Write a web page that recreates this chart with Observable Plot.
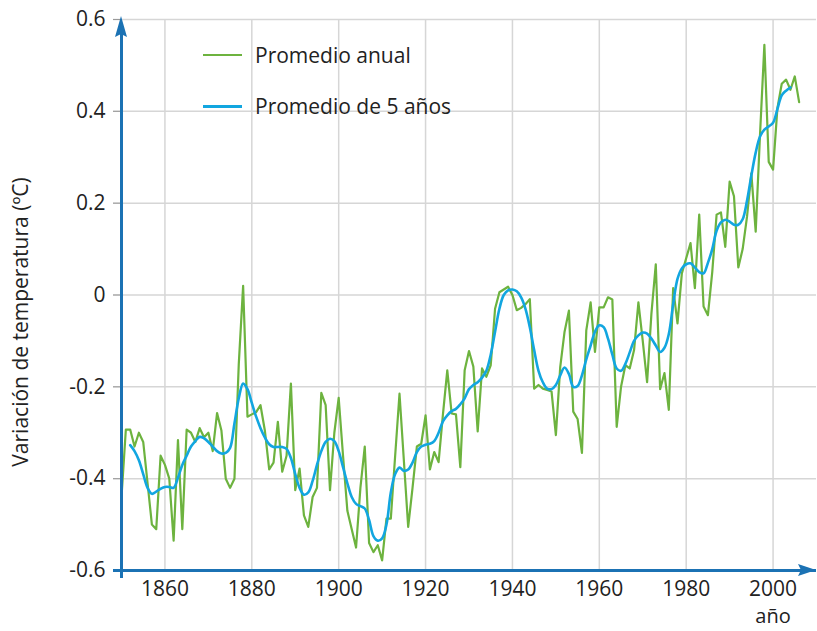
<!DOCTYPE html>
<html>
<head>
<meta charset="utf-8">
<script src="https://cdn.jsdelivr.net/npm/d3@7"></script>
<script src="https://cdn.jsdelivr.net/npm/@observablehq/plot@0.6"></script>
<style>
  body { margin: 0; background: #fff; }
  #wrap { position: relative; width: 817px; height: 631px; font-family: "Open Sans", sans-serif; color: #222; }
  .legend { position: absolute; left: 203px; font-size: 21px; display: flex; align-items: center; white-space: nowrap; }
  .legend .sw { width: 39px; height: 0; margin-right: 13px; }
  .ylab { position: absolute; left: 20px; top: 322px; transform: translate(-50%, -50%) rotate(-90deg); font-size: 21px; white-space: nowrap; }
  .xlab { position: absolute; left: 773px; top: 606px; transform: translateX(-50%); font-size: 20px; line-height: 20px; }
</style>
</head>
<body>
<div id="wrap"></div>
<script>
// ---- data ----
const firstYear = 1850;
const annualValues = [
  -0.44, -0.293, -0.293, -0.33, -0.30, -0.32, -0.41, -0.50, -0.51, -0.35,   // 1850s
  -0.37, -0.40, -0.535, -0.316, -0.51, -0.293, -0.30, -0.32, -0.29, -0.31,  // 1860s
  -0.30, -0.34, -0.257, -0.295, -0.40, -0.42, -0.40, -0.15, 0.02, -0.265,   // 1870s
  -0.26, -0.255, -0.24, -0.295, -0.38, -0.365, -0.276, -0.385, -0.35, -0.193, // 1880s
  -0.425, -0.378, -0.48, -0.505, -0.44, -0.42, -0.213, -0.24, -0.425, -0.30, // 1890s
  -0.224, -0.35, -0.47, -0.51, -0.55, -0.42, -0.33, -0.54, -0.56, -0.545,   // 1900s
  -0.578, -0.487, -0.487, -0.35, -0.215, -0.36, -0.505, -0.42, -0.33, -0.324, // 1910s
  -0.262, -0.38, -0.342, -0.364, -0.26, -0.164, -0.258, -0.26, -0.375, -0.164, // 1920s
  -0.122, -0.156, -0.297, -0.16, -0.178, -0.153, -0.03, 0.006, 0.012, 0.018, // 1930s
  0.0, -0.033, -0.028, -0.02, -0.009, -0.204, -0.196, -0.204, -0.207, -0.21, // 1940s
  -0.305, -0.157, -0.08, -0.034, -0.254, -0.27, -0.344, -0.077, -0.016, -0.124, // 1950s
  -0.027, -0.027, -0.005, -0.01, -0.287, -0.2, -0.153, -0.16, -0.12, -0.016, // 1960s
  -0.1, -0.19, -0.04, 0.067, -0.205, -0.17, -0.25, 0.015, -0.062, 0.047,    // 1970s
  0.08, 0.113, 0.015, 0.175, -0.025, -0.044, 0.05, 0.175, 0.18, 0.105,      // 1980s
  0.247, 0.215, 0.06, 0.10, 0.17, 0.265, 0.138, 0.35, 0.545, 0.29,          // 1990s
  0.273, 0.407, 0.46, 0.469, 0.447, 0.476, 0.42                             // 2000s
];
const smoothFirstYear = 1852;
const smoothValues = [
  -0.327, -0.34, -0.36, -0.39, -0.42, -0.433, -0.428, -0.422,               // 1852-1859
  -0.418, -0.418, -0.42, -0.398, -0.37, -0.35, -0.33, -0.318, -0.309, -0.312, // 1860s
  -0.32, -0.33, -0.34, -0.345, -0.344, -0.333, -0.28, -0.225, -0.193, -0.205, // 1870s
  -0.235, -0.265, -0.29, -0.31, -0.325, -0.331, -0.331, -0.331, -0.335, -0.355, // 1880s
  -0.39, -0.42, -0.435, -0.43, -0.405, -0.37, -0.34, -0.32, -0.313, -0.318, // 1890s
  -0.34, -0.375, -0.41, -0.44, -0.455, -0.46, -0.465, -0.49, -0.525, -0.535, // 1900s
  -0.53, -0.5, -0.43, -0.39, -0.376, -0.383, -0.38, -0.365, -0.342, -0.33,  // 1910s
  -0.326, -0.324, -0.318, -0.3, -0.275, -0.262, -0.253, -0.248, -0.238, -0.225, // 1920s
  -0.205, -0.196, -0.19, -0.18, -0.165, -0.13, -0.08, -0.03, 0.0, 0.01,     // 1930s
  0.012, 0.008, -0.005, -0.03, -0.07, -0.12, -0.165, -0.19, -0.204, -0.205, // 1940s
  -0.196, -0.175, -0.158, -0.172, -0.2, -0.198, -0.175, -0.14, -0.11, -0.08, // 1950s
  -0.066, -0.07, -0.095, -0.13, -0.16, -0.165, -0.15, -0.125, -0.1, -0.088, // 1960s
  -0.082, -0.084, -0.095, -0.11, -0.124, -0.115, -0.085, -0.02, 0.035, 0.058, // 1970s
  0.067, 0.069, 0.06, 0.05, 0.047, 0.07, 0.1, 0.14, 0.158, 0.164,           // 1980s
  0.16, 0.153, 0.153, 0.165, 0.205, 0.26, 0.31, 0.345, 0.36, 0.367,         // 1990s
  0.375, 0.405, 0.435, 0.445, 0.452                                         // 2000-2004
];
const xTicks = [1860, 1880, 1900, 1920, 1940, 1960, 1980, 2000];
const yTicks = [-0.6, -0.4, -0.2, 0, 0.2, 0.4, 0.6];
const seriesNames = ["Promedio anual", "Promedio de 5 años"];
const yLabel = "Variación de temperatura (ºC)";
const xLabel = "año";

// ---- styles ----
const green = "#6db33f";
const cyan = "#12a6e0";
const axisBlue = "#1b72b4";
const gridColor = "#d6d6d6";

const annual = annualValues.map((v, i) => ({year: firstYear + i, value: v}));
const smooth = smoothValues.map((v, i) => ({year: smoothFirstYear + i, value: v}));

const chart = Plot.plot({
  width: 817,
  height: 631,
  marginLeft: 121,
  marginRight: 1,
  marginTop: 19,
  marginBottom: 61,
  style: {fontFamily: "'Open Sans', sans-serif", fontSize: "21px", color: "#222", background: "#fff"},
  x: {domain: [1850, 2010], label: null},
  y: {domain: [-0.6, 0.6], label: null},
  marks: [
    Plot.gridX(xTicks, {stroke: gridColor, strokeOpacity: 1, strokeWidth: 1.5}),
    Plot.gridY(yTicks, {stroke: gridColor, strokeOpacity: 1, strokeWidth: 1.5, insetLeft: -8}),
    Plot.axisX(xTicks, {tickSize: 0, tickPadding: 11, tickFormat: d => String(d), fontSize: 21, fill: "#222"}),
    Plot.axisY(yTicks, {tickSize: 8, tickPadding: 8, stroke: "#999", tickFormat: d => d === 0 ? "0" : d.toFixed(1), fontSize: 21, fill: "#222"}),
    Plot.line(annual, {x: "year", y: "value", stroke: green, strokeWidth: 2.2, strokeLinejoin: "round"}),
    Plot.line(smooth, {x: "year", y: "value", stroke: cyan, strokeWidth: 2.6, curve: "catmull-rom"}),
    Plot.ruleY([-0.6], {stroke: axisBlue, strokeWidth: 3, insetLeft: -8}),
    Plot.ruleX([1850], {stroke: axisBlue, strokeWidth: 3, insetBottom: -8, insetTop: 4})
  ]
});

// arrowheads on the axes, placed from the plot scales
const sx = chart.scale("x"), sy = chart.scale("y");
const x0 = sx.apply(1850), xEnd = sx.apply(2010);
const yTop = sy.apply(0.6), yBot = sy.apply(-0.6);
const svg = d3.select(chart);
svg.append("path")
  .attr("d", `M${x0},${yTop - 3} L${x0 + 6},${yTop + 18} L${x0},${yTop + 15} L${x0 - 6},${yTop + 18} Z`)
  .attr("fill", axisBlue);
svg.append("path")
  .attr("d", `M${xEnd},${yBot} L${xEnd - 18},${yBot - 6} L${xEnd - 15},${yBot} L${xEnd - 18},${yBot + 6} Z`)
  .attr("fill", axisBlue);

const wrap = document.getElementById("wrap");
wrap.appendChild(chart);

// legend
const legendRows = [
  {name: seriesNames[0], color: green, top: 41, w: 2.5},
  {name: seriesNames[1], color: cyan, top: 92, w: 3}
];
for (const r of legendRows) {
  const d = document.createElement("div");
  d.className = "legend";
  d.style.top = r.top + "px";
  const sw = document.createElement("span");
  sw.className = "sw";
  sw.style.borderTop = `${r.w}px solid ${r.color}`;
  d.appendChild(sw);
  const t = document.createElement("span");
  t.textContent = r.name;
  d.appendChild(t);
  wrap.appendChild(d);
}
const yl = document.createElement("div");
yl.className = "ylab";
yl.textContent = yLabel;
wrap.appendChild(yl);
const xl = document.createElement("div");
xl.className = "xlab";
xl.textContent = xLabel;
wrap.appendChild(xl);
</script>
</body>
</html>
